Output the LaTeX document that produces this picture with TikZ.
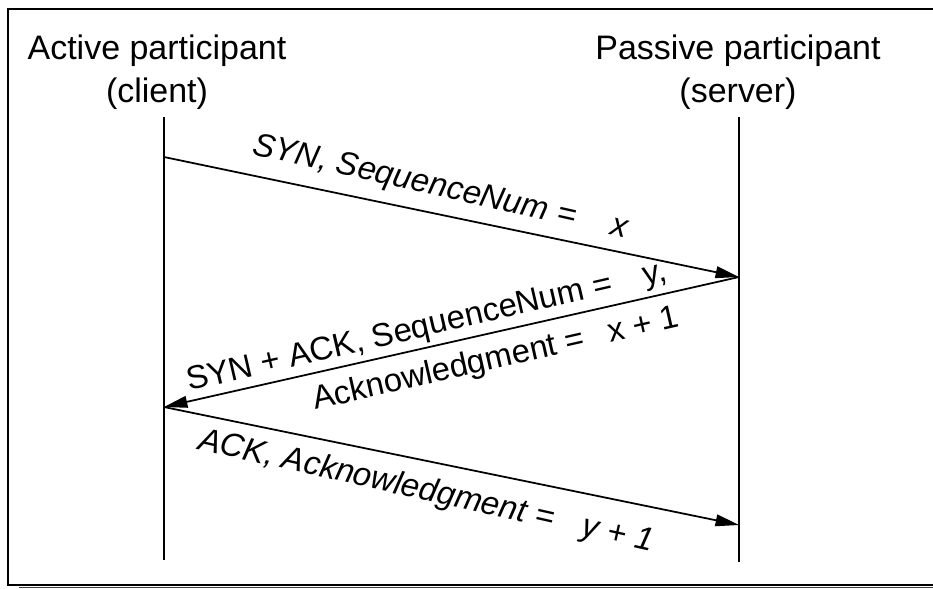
\documentclass[tikz,border=0pt]{standalone}
\usepackage{fontspec}
\setmainfont{Liberation Sans}
\usetikzlibrary{arrows.meta}

\tikzset{
  head/.style={font=\fontsize{29}{36}\selectfont, align=center, anchor=base, inner sep=0pt},
  lifeline/.style={line width=1.5pt},
  msg/.style={line width=1.5pt, -{Triangle[length=20pt,width=10pt]}},
  msglabel/.style={font=\fontsize{28}{34}\selectfont, inner sep=0pt, anchor=base west},
}

\begin{document}
\begin{tikzpicture}[x=0.03cm, y=-0.03cm]
  \useasboundingbox (0,0) rectangle (933,588);
  % Frame with its shadow along the bottom
  \draw[line width=1.6pt] (950,9) -- (8,9) -- (8,585) -- (950,585);
  \draw[line width=1.6pt, gray!50!black] (19,587.5) -- (950,587.5);

  % Participants (base anchor sits on the second line)
  \node[head] (client) at (157,102) {Active participant\\(client)};
  \node[head] (server) at (738,102) {Passive participant\\(server)};

  % Lifelines
  \coordinate (ctop) at (164,117);
  \coordinate (cbot) at (164,560);
  \coordinate (stop) at (739,117);
  \coordinate (sbot) at (739,562);
  \draw[lifeline] (ctop) -- (cbot);
  \draw[lifeline] (stop) -- (sbot);

  % Message end points
  \coordinate (c1) at (164,157);
  \coordinate (s1) at (739,277);
  \coordinate (c2) at (164,407);
  \coordinate (s2) at (739,525);

  % Handshake
  \draw[msg] (c1) -- (s1);
  \draw[msg] (s1) -- (c2);
  \draw[msg] (c2) -- (s2);

  % Labels
  \node[msglabel, rotate=-12.7] (syn) at (251,154)
    {\itshape SYN, SequenceNum =\hspace{1.1em}x};
  \node[msglabel, rotate=13] (synack) at (189,391)
    {SYN + ACK, SequenceNum =\hspace{1em}y,};
  \node[msglabel, rotate=12.8] (synackack) at (315,410)
    {Acknowledgment =\hspace{0.75em}x + 1};
  \node[msglabel, rotate=-12.7] (ack) at (197,449)
    {\itshape ACK, Acknowledgment =\hspace{0.9em}y + 1};
\end{tikzpicture}
\end{document}
